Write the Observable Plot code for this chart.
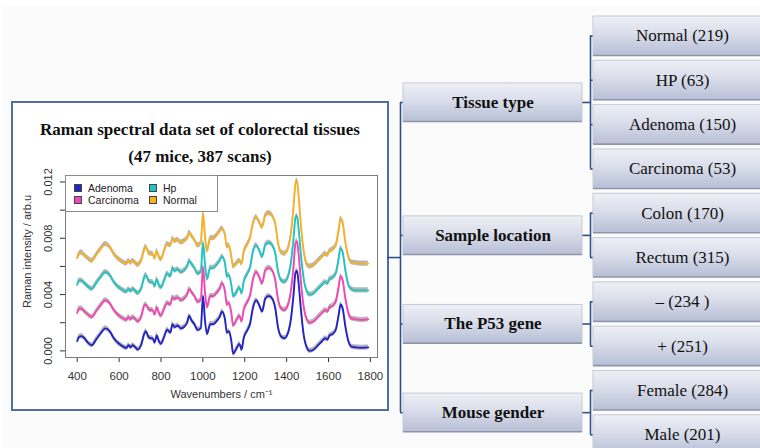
<!DOCTYPE html>
<html>
<head>
<meta charset="utf-8">
<script src="https://cdn.jsdelivr.net/npm/d3@7"></script>
<script src="https://cdn.jsdelivr.net/npm/@observablehq/plot@0.6"></script>
<style>
  html, body { margin: 0; padding: 0; background: #ffffff; }
  #root { position: relative; width: 760px; height: 448px; overflow: hidden; }
  #bg { position: absolute; left: 3px; top: 6px; right: 0; bottom: 0; background: #fbfbfb; }
  #panel { position: absolute; left: 11px; top: 101px; width: 378px; height: 310px; box-sizing: border-box;
           border: 2px solid #4f6fa4; background: #ffffff; }
  #chart { position: absolute; left: 12px; top: 102px; }
  #title { position: absolute; left: 12px; width: 376px; top: 116px; text-align: center;
           font: bold 17px "Liberation Serif", "Times New Roman", serif; line-height: 27px; color: #111; }
  #legend { position: absolute; left: 65px; top: 175px; width: 153px; height: 37px; box-sizing: border-box;
            border: 1px solid #8a8a8a; background: #fff; font: 10.5px "Liberation Sans", Arial, sans-serif; color: #222; }
  .lg-item { position: absolute; display: flex; align-items: center; height: 12px; }
  .lg-sw { width: 8px; height: 8px; border: 1px solid #444; margin-right: 6px; box-sizing: border-box; }
  #tree { position: absolute; left: 387px; top: 0; }
  svg { display: block; }
</style>
</head>
<body>
<div id="root">
  <div id="bg"></div>
  <div id="panel"></div>
  <div id="chart"></div>
  <div id="title">Raman spectral data set of colorectal tissues<br>(47 mice, 387 scans)</div>
  <div id="legend"></div>
  <div id="tree"></div>
  <svg width="0" height="0" style="position:absolute">
    <defs>
      <linearGradient id="boxGrad" x1="0" y1="0" x2="0" y2="1">
        <stop offset="0" stop-color="#eef0f6"/>
        <stop offset="0.45" stop-color="#dadeea"/>
        <stop offset="1" stop-color="#b8bfd7"/>
      </linearGradient>
    </defs>
  </svg>
</div>
<script>
// ---------------- Data ----------------
const wavenumbers = [
  400, 410, 420, 435, 450,   470, 490, 510, 535, 555,   575, 600, 620, 635, 645,
  655, 665, 675, 690, 705,   720, 728, 740, 750, 760,   770, 780, 790, 800, 815,
  830, 845, 855, 865, 880,   895, 910, 925, 935, 945,   960, 975, 990, 1001, 1010,
  1020, 1035, 1050, 1065, 1080,   1092, 1105, 1115, 1125, 1135,   1145, 1155, 1165, 1175, 1185,
  1195, 1210, 1225, 1240, 1255,   1268, 1283, 1298, 1315, 1332,   1345, 1360, 1375, 1390, 1405,
  1420, 1432, 1442, 1450, 1458,   1468, 1480, 1495, 1510, 1530,   1550, 1570, 1585, 1595, 1605,
  1620, 1635, 1648, 1658, 1668,   1680, 1695, 1710, 1730, 1760, 1790
];

const adenoma = [
  0.0007, 0.0010, 0.00105, 0.0009, 0.0006,   0.0004, 0.0008, 0.0012, 0.0016, 0.0014,   0.0009, 0.0005, 0.0003, 0.0002, 0.0004,
  0.00025, 0.0004, 0.0003, 0.0001, 0.0004,   0.0012, 0.0014, 0.0010, 0.0009, 0.0009,   0.0006, 0.0011, 0.0007, 0.0005, 0.0010,
  0.0015, 0.0013, 0.0019, 0.0017, 0.0018,   0.0016, 0.0017, 0.0020, 0.0025, 0.0022,   0.0019, 0.0015, 0.0016, 0.0039, 0.0022,
  0.0012, 0.0019, 0.0019, 0.0021, 0.0024,   0.0028, 0.0023, 0.0013, 0.0014, 0.0008,   -0.0002, 0.0000, 0.0003, 0.0005, 0.0001,
  0.0009, 0.0014, 0.0019, 0.0031, 0.0036,   0.0033, 0.0028, 0.0037, 0.0039, 0.0037,   0.0031, 0.0016, 0.0010, 0.0009, 0.0012,
  0.0022, 0.0038, 0.0055, 0.0057, 0.0047,   0.0030, 0.0013, 0.0003, 0.0000, 0.0001,   0.0004, 0.0007, 0.0009, 0.0008, 0.0011,
  0.0012, 0.0015, 0.0025, 0.0033, 0.0030,   0.0018, 0.0007, 0.0003, 0.00025, 0.00022, 0.00025
];
const carcinoma = [
  0.0027, 0.0030, 0.0030, 0.0028, 0.0026,   0.0024, 0.0028, 0.0032, 0.0036, 0.0034,   0.0029, 0.0025, 0.0023, 0.0022, 0.0024,
  0.00225, 0.0024, 0.0023, 0.0021, 0.0024,   0.0032, 0.0033, 0.0030, 0.0029, 0.0029,   0.0026, 0.0031, 0.0027, 0.0025, 0.0030,
  0.0034, 0.0033, 0.0038, 0.0037, 0.0038,   0.0036, 0.0037, 0.0040, 0.0044, 0.0042,   0.0039, 0.0035, 0.0036, 0.0060, 0.0042,
  0.0031, 0.0039, 0.0039, 0.0041, 0.0044,   0.0048, 0.0043, 0.0033, 0.0034, 0.0028,   0.0018, 0.0020, 0.0023, 0.0025, 0.0021,
  0.0029, 0.0034, 0.0039, 0.0051, 0.0056,   0.0053, 0.0048, 0.0057, 0.0059, 0.0057,   0.0051, 0.0036, 0.0030, 0.0029, 0.0032,
  0.0042, 0.0058, 0.0076, 0.0078, 0.0068,   0.0050, 0.0033, 0.0023, 0.0020, 0.0021,   0.0024, 0.0027, 0.0029, 0.0028, 0.0031,
  0.0032, 0.0035, 0.0045, 0.0053, 0.0050,   0.0038, 0.0027, 0.0023, 0.00225, 0.0022, 0.00225
];
const hp = [
  0.0047, 0.0050, 0.0050, 0.0048, 0.0046,   0.0044, 0.0048, 0.0052, 0.0056, 0.0054,   0.0049, 0.0045, 0.0043, 0.0042, 0.0044,
  0.00425, 0.0044, 0.0043, 0.0041, 0.0044,   0.0052, 0.0054, 0.0050, 0.0049, 0.0049,   0.0046, 0.0051, 0.0047, 0.0045, 0.0050,
  0.0055, 0.0053, 0.0059, 0.0057, 0.0058,   0.0056, 0.0057, 0.0060, 0.0064, 0.0062,   0.0059, 0.0055, 0.0056, 0.0077, 0.0062,
  0.0051, 0.0059, 0.0059, 0.0061, 0.0064,   0.0067, 0.0063, 0.0053, 0.0054, 0.0048,   0.0039, 0.0040, 0.0043, 0.0045, 0.0041,
  0.0049, 0.0054, 0.0059, 0.0071, 0.0075,   0.0072, 0.0067, 0.0075, 0.0077, 0.0075,   0.0070, 0.0056, 0.0050, 0.0049, 0.0052,
  0.0062, 0.0078, 0.0094, 0.0096, 0.0086,   0.0069, 0.0053, 0.0043, 0.0040, 0.0041,   0.0044, 0.0047, 0.0049, 0.0048, 0.0051,
  0.0052, 0.0055, 0.0065, 0.0073, 0.0070,   0.0058, 0.0047, 0.0044, 0.0043, 0.0043, 0.0043
];
const normal = [
  0.0066, 0.0069, 0.0070, 0.0068, 0.0066,   0.0064, 0.0068, 0.0072, 0.0076, 0.0074,   0.0069, 0.0065, 0.0063, 0.0062, 0.0064,
  0.00625, 0.0064, 0.0063, 0.0061, 0.0064,   0.0072, 0.0074, 0.0070, 0.0069, 0.0069,   0.0066, 0.0071, 0.0067, 0.0065, 0.0071,
  0.0076, 0.0075, 0.0080, 0.0078, 0.0079,   0.0077, 0.0078, 0.0080, 0.0084, 0.0082,   0.0079, 0.0075, 0.0076, 0.0098, 0.0082,
  0.0071, 0.0080, 0.0080, 0.0082, 0.0085,   0.0087, 0.0083, 0.0074, 0.0075, 0.0068,   0.0060, 0.0061, 0.0063, 0.0064, 0.0062,
  0.0070, 0.0075, 0.0080, 0.0091, 0.0095,   0.0092, 0.0088, 0.0096, 0.0098, 0.0096,   0.0091, 0.0076, 0.0070, 0.0069, 0.0072,
  0.0083, 0.0100, 0.0118, 0.0121, 0.0109,   0.0090, 0.0073, 0.0062, 0.0060, 0.0061,   0.0064, 0.0067, 0.0069, 0.0068, 0.0071,
  0.0072, 0.0075, 0.0085, 0.0094, 0.0091,   0.0078, 0.0067, 0.0063, 0.00625, 0.0062, 0.0062
];
const spreadHalfWidth = 0.00018; // grey band (scan variability) around each mean spectrum

const seriesNames = ["Adenoma", "Carcinoma", "Hp", "Normal"];
const seriesValues = [adenoma, carcinoma, hp, normal];
const seriesColors = ["#2323c8", "#f446b4", "#1fc5c5", "#f7b127"];
const legendOrder = ["Adenoma", "Hp", "Carcinoma", "Normal"];

const xTicks = [400, 600, 800, 1000, 1200, 1400, 1600, 1800];
const yTicks = [0, 0.002, 0.004, 0.006, 0.008, 0.010, 0.012];
const yTickLabels = [0, 0.004, 0.008, 0.012];

const groupNames = ["Tissue type", "Sample location", "The P53 gene", "Mouse gender"];
const groupMembers = [
  ["Normal (219)", "HP (63)", "Adenoma (150)", "Carcinoma (53)"],
  ["Colon (170)", "Rectum (315)"],
  ["\u2013 (234 )", "+ (251)"],
  ["Female (284)", "Male (201)"]
];

// sanity check
seriesValues.forEach((arr, k) => {
  if (arr.length !== wavenumbers.length) throw new Error(seriesNames[k] + " length " + arr.length + " vs " + wavenumbers.length);
});

// ---------------- Spectra chart ----------------
const rows = seriesNames.flatMap((name, k) =>
  wavenumbers.map((w, i) => ({name, w, v: seriesValues[k][i]})));

const chart = Plot.plot({
  width: 376, height: 308,
  marginLeft: 53, marginRight: 11, marginTop: 73, marginBottom: 53,
  style: {background: "transparent", fontFamily: "'Liberation Sans', Arial, sans-serif", fontSize: "11.5px", color: "#333", overflow: "visible"},
  x: {domain: [344, 1834], ticks: xTicks, tickSize: 5, tickPadding: 9, tickFormat: d3.format("d"), label: null},
  y: {domain: [-0.00047, 0.01246], ticks: yTicks, tickSize: 5, tickFormat: () => "", label: null},
  color: {domain: seriesNames, range: seriesColors},
  marks: [
    Plot.frame({stroke: "#7c7c7c"}),
    Plot.areaY(rows, {x: "w", y1: d => d.v - spreadHalfWidth, y2: d => d.v + spreadHalfWidth, z: "name",
                      fill: "#a9a9a9", fillOpacity: 0.85, curve: "monotone-x"}),
    Plot.line(rows, {x: "w", y: "v", z: "name", stroke: "name", strokeWidth: 1.9, curve: "monotone-x"}),
    Plot.text(yTickLabels, {y: d => d, text: d => d3.format(".3f")(d), frameAnchor: "left", dx: -17,
                            rotate: -90, textAnchor: "middle", fill: "#333", fontSize: 11}),
    Plot.text(["Wavenumbers / cm\u207B\u00B9"], {frameAnchor: "bottom", dy: 40, fill: "#333", fontSize: 11}),
    Plot.text(["Raman intensity / arb.u"], {frameAnchor: "top-left", dx: -42, dy: 76, rotate: -90,
                                            textAnchor: "middle", fill: "#333", fontSize: 11})
  ]
});
document.getElementById("chart").append(chart);

// HTML legend
const legend = document.getElementById("legend");
const legendPos = [[8, 7], [83, 7], [8, 19], [83, 19]];
legendOrder.forEach((name, i) => {
  const item = document.createElement("div");
  item.className = "lg-item";
  item.style.left = legendPos[i][0] + "px";
  item.style.top = (legendPos[i][1] - 1) + "px";
  const sw = document.createElement("div");
  sw.className = "lg-sw";
  sw.style.background = seriesColors[seriesNames.indexOf(name)];
  const label = document.createElement("span");
  label.textContent = name;
  item.append(sw, label);
  legend.append(item);
});

// ---------------- Tree diagram ----------------
let rowIdx = 0;
const leaves = [], groups = [];
groupNames.forEach((name, gi) => {
  const first = rowIdx;
  groupMembers[gi].forEach(label => leaves.push({label, row: rowIdx++}));
  groups.push({name, first, last: rowIdx - 1, mid: (first + rowIdx - 1) / 2});
});
const rootMid = (groups[0].mid + groups[groups.length - 1].mid) / 2;

// layout (page pixels for x, row units for y)
const L = {rootX: 387, trunkX: 400, gX1: 403, gX2: 582, branchX: 590, lX1: 593, lX2: 771, gH: 0.86, lH: 0.88};
const lineColor = "#2d5189";

const tree = Plot.plot({
  width: 373, height: 448, margin: 0,
  style: {background: "transparent", overflow: "hidden"},
  x: {domain: [387, 760], range: [0, 373], axis: null},
  y: {domain: [0, 9], range: [35.5, 434.3], axis: null},
  marks: [
    // connectors
    Plot.ruleY([rootMid], {x1: L.rootX, x2: L.trunkX, stroke: lineColor, strokeWidth: 1.6}),
    Plot.ruleX([L.trunkX], {y1: groups[0].mid, y2: groups[groups.length - 1].mid, stroke: lineColor, strokeWidth: 1.6}),
    Plot.ruleY(groups, {y: "mid", x1: L.trunkX, x2: L.gX1 + 1, stroke: lineColor, strokeWidth: 1.6}),
    Plot.ruleY(groups, {y: "mid", x1: L.gX2, x2: L.branchX, stroke: lineColor, strokeWidth: 1.6}),
    Plot.ruleX(groups, {x: L.branchX, y1: "first", y2: "last", stroke: lineColor, strokeWidth: 1.6}),
    Plot.ruleY(leaves, {y: "row", x1: L.branchX, x2: L.lX1 + 1, stroke: lineColor, strokeWidth: 1.6}),
    // group boxes
    Plot.rect(groups, {x1: L.gX1, x2: L.gX2, y1: d => d.mid - L.gH / 2, y2: d => d.mid + L.gH / 2,
                       fill: "url(#boxGrad)", stroke: "#c6cad6", strokeWidth: 1}),
    Plot.ruleY(groups, {y: d => d.mid + L.gH / 2, x1: L.gX1, x2: L.gX2, stroke: "#8c94aa", strokeWidth: 1.6}),
    // leaf boxes
    Plot.rect(leaves, {x1: L.lX1, x2: L.lX2, y1: d => d.row - L.lH / 2, y2: d => d.row + L.lH / 2,
                       fill: "url(#boxGrad)", stroke: "#c6cad6", strokeWidth: 1}),
    Plot.ruleY(leaves, {y: d => d.row + L.lH / 2, x1: L.lX1, x2: L.lX2, stroke: "#8c94aa", strokeWidth: 1.6}),
    // labels
    Plot.text(groups, {x: (L.gX1 + L.gX2) / 2, y: "mid", text: "name", fontWeight: "bold", fontSize: 17,
                       fontFamily: "'Liberation Serif', 'Times New Roman', serif", fill: "#111"}),
    Plot.text(leaves, {x: (L.lX1 + L.lX2) / 2, y: "row", text: "label", fontSize: 17,
                       fontFamily: "'Liberation Serif', 'Times New Roman', serif", fill: "#111"})
  ]
});
document.getElementById("tree").append(tree);
</script>
</body>
</html>
